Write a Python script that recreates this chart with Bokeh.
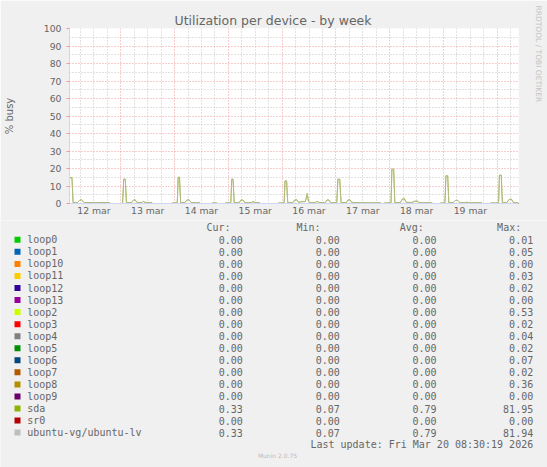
from bokeh.plotting import figure
from bokeh.models import Range1d, FixedTicker, Title
from bokeh.layouts import column
from bokeh.embed import file_html
from bokeh.resources import INLINE
from bokeh.core.properties import value

NAN = float("nan")

# ---------------- data ----------------
title_text = "Utilization per device - by week"
y_label_text = "% busy"
side_text = "RRDTOOL / TOBI OETIKER"
footer_text = "Munin 2.0.75"
update_text = "Last update: Fri Mar 20 08:30:19 2026"

# hours since 12 Mar 00:00
x_start, x_end = 1.1, 201.5
day_labels = ["12 mar", "13 mar", "14 mar", "15 mar", "16 mar", "17 mar", "18 mar", "19 mar"]
label_hours = [12, 36, 60, 84, 108, 132, 156, 180]
midnight_hours = [24, 48, 72, 96, 120, 144, 168, 192]
quarter_hours = [6, 12, 18, 30, 36, 42, 54, 60, 66, 78, 84, 90, 102, 108, 114,
                 126, 132, 138, 150, 156, 162, 174, 180, 186, 198]
y_ticks = [0, 10, 20, 30, 40, 50, 60, 70, 80, 90, 100]
y_minor = [5, 15, 25, 35, 45, 55, 65, 75, 85, 95]

devices = ["loop0", "loop1", "loop10", "loop11", "loop12", "loop13", "loop2", "loop3",
           "loop4", "loop5", "loop6", "loop7", "loop8", "loop9", "sda", "sr0",
           "ubuntu-vg/ubuntu-lv"]
colors = ["#00CC00", "#0066B3", "#FF8000", "#FFCC00", "#330099", "#990099", "#CCFF00",
          "#FF0000", "#808080", "#008F00", "#00487D", "#B35A00", "#B38F00", "#6B006B",
          "#8FB300", "#B30000", "#BEBEBE"]
headers = ["Cur:", "Min:", "Avg:", "Max:"]
cur = [0.00, 0.00, 0.00, 0.00, 0.00, 0.00, 0.00, 0.00, 0.00, 0.00, 0.00, 0.00, 0.00, 0.00, 0.33, 0.00, 0.33]
mins = [0.00, 0.00, 0.00, 0.00, 0.00, 0.00, 0.00, 0.00, 0.00, 0.00, 0.00, 0.00, 0.00, 0.00, 0.07, 0.00, 0.07]
avgs = [0.00, 0.00, 0.00, 0.00, 0.00, 0.00, 0.00, 0.00, 0.00, 0.00, 0.00, 0.00, 0.00, 0.00, 0.79, 0.00, 0.79]
maxs = [0.01, 0.05, 0.00, 0.03, 0.02, 0.00, 0.53, 0.02, 0.04, 0.02, 0.07, 0.02, 0.36, 0.00, 81.95, 0.00, 81.94]

# spans (hours) where samples exist; the idle devices sit at 0 there
data_spans = [(1.1, 19.1), (24.8, 38.0), (46.8, 59.4), (64.7, 67.0), (70.6, 86.1),
              (94.4, 140.0), (141.6, 163.0), (166.7, 185.2), (189.0, 201.5)]

sda_hours = [1.1, 2.2, 2.7, 4.6, 5.6, 6.4, 7.2, 7.8, 12.0, 16.0, 19.1, 19.2,
             24.8, 25.3, 26.0, 26.5, 28.8, 29.6, 30.4, 31.2, 33.4, 34.0, 34.8, 38.0, 38.1,
             46.8, 48.2, 49.2, 49.6, 50.2, 50.7, 52.6, 53.5, 54.4, 55.4, 57.5, 58.8, 59.4, 59.5,
             64.7, 67.0, 67.1,
             70.6, 72.4, 73.1, 73.5, 74.1, 74.6, 76.8, 77.6, 78.5, 79.3, 82.2, 83.0, 83.8, 86.1, 86.2,
             94.4, 96.2, 96.9, 97.3, 98.0, 98.5, 100.8, 101.6, 102.6, 103.4, 104.5, 106.4, 107.2,
             107.8, 108.5, 110.8, 111.6, 112.6, 115.2, 116.0, 116.9, 117.6, 120.4, 120.9, 121.7,
             122.3, 124.6, 125.4, 126.3, 127.1, 133.4, 140.0, 140.1,
             141.6, 143.1, 144.6, 145.0, 145.8, 146.3, 148.8, 149.7, 150.6, 151.4, 154.0, 155.2,
             156.4, 157.2, 163.0, 163.1,
             166.7, 167.7, 168.7, 169.1, 169.9, 170.4, 172.4, 173.3, 174.3, 175.3, 177.8, 178.4,
             179.0, 185.2, 185.3,
             189.0, 191.4, 192.6, 193.0, 193.8, 194.3, 196.3, 197.3, 198.3, 199.2, 201.5]
sda_busy = [14.7, 14.7, 0.5, 0.4, 1.8, 2.1, 1.2, 0.5, 0.5, 0.6, 0.5, NAN,
            0.3, 13.9, 13.9, 0.6, 0.5, 1.9, 2.1, 0.6, 0.5, 1.3, 0.6, 0.5, NAN,
            0.3, 0.3, 0.4, 15.0, 15.0, 0.5, 0.5, 1.9, 2.2, 0.6, 0.4, 0.6, 0.3, NAN,
            0.3, 0.3, NAN,
            0.3, 0.4, 0.5, 13.9, 13.9, 0.5, 0.5, 1.9, 2.0, 0.6, 0.5, 1.1, 0.6, 0.4, NAN,
            0.3, 0.3, 0.5, 12.9, 12.9, 0.5, 0.5, 2.0, 2.1, 0.6, 1.0, 1.1, 5.7,
            1.0, 0.5, 0.5, 1.2, 0.5, 0.5, 2.0, 2.0, 0.5, 0.5, 13.9, 13.9,
            0.5, 0.5, 2.0, 2.1, 0.6, 0.4, 0.4, NAN,
            0.3, 0.3, 0.5, 19.6, 19.6, 0.5, 0.5, 2.6, 2.7, 0.6, 0.6, 1.3,
            1.3, 0.5, 0.4, NAN,
            0.3, 0.3, 0.5, 15.8, 15.8, 0.5, 0.5, 1.7, 1.8, 0.5, 0.5, 0.8,
            0.5, 0.4, NAN,
            0.3, 0.3, 0.5, 16.2, 16.2, 0.5, 0.5, 2.3, 2.5, 0.6, 0.4]
lv_busy = [14.7, 14.7, 0.5, 0.4, 1.8, 2.1, 1.2, 0.5, 0.5, 0.6, 0.5, NAN,
           0.3, 13.9, 13.9, 0.6, 0.5, 1.9, 2.1, 0.6, 0.5, 1.3, 0.6, 0.5, NAN,
           0.3, 0.3, 0.4, 15.0, 15.0, 0.5, 0.5, 1.9, 2.2, 0.6, 0.4, 0.6, 0.3, NAN,
           0.3, 0.3, NAN,
           0.3, 0.4, 0.5, 13.9, 13.9, 0.5, 0.5, 1.9, 2.0, 0.6, 0.5, 1.1, 0.6, 0.4, NAN,
           0.3, 0.3, 0.5, 12.9, 12.9, 0.5, 0.5, 2.0, 2.1, 0.6, 1.0, 1.1, 5.7,
           1.0, 0.5, 0.5, 1.2, 0.5, 0.5, 2.0, 2.0, 0.5, 0.5, 13.9, 13.9,
           0.5, 0.5, 2.0, 2.1, 0.6, 0.4, 0.4, NAN,
           0.3, 0.3, 0.5, 19.6, 19.6, 0.5, 0.5, 2.6, 2.7, 0.6, 0.6, 1.3,
           1.3, 0.5, 0.4, NAN,
           0.3, 0.3, 0.5, 15.8, 15.8, 0.5, 0.5, 1.7, 1.8, 0.5, 0.5, 0.8,
           0.5, 0.4, NAN,
           0.3, 0.3, 0.5, 16.2, 16.2, 0.5, 0.5, 2.3, 2.5, 0.6, 0.4]

# ---------------- styles ----------------
BG = "#F0F0F0"
FONT_COLOR = "#666666"
AXIS_COLOR = "#CFD6F8"
MGRID = "#EE9A9A"
GRID = "#C4C4C4"

W = 547
H_TOP = 220
H_BOT = 247

p = figure(width=W, height=H_TOP, x_range=Range1d(x_start, x_end), y_range=Range1d(0, 100),
           toolbar_location=None, output_backend="svg",
           min_border_left=67, min_border_right=29, min_border_top=28, min_border_bottom=17)
p.frame_align = False
p.background_fill_color = "#FFFFFF"
p.border_fill_color = BG
p.outline_line_color = None

# title and side text as layout titles
p.add_layout(Title(text=title_text, align="left", offset=105, standoff=2,
                   text_font="DejaVu Sans", text_font_size="12.5px",
                   text_font_style="normal", text_color=FONT_COLOR), "above")
# empty spacer pushes the side text towards the right edge
p.add_layout(Title(text=" ", standoff=10, text_font_size="1px"), "right")
p.add_layout(Title(text=side_text, align="left", offset=-23, standoff=0,
                   vertical_align="top", text_font="DejaVu Sans", text_font_size="7.5px",
                   text_font_style="normal", text_color="#C4C4C4"), "right")

# axes
p.xaxis.ticker = FixedTicker(ticks=label_hours)
p.xaxis.major_label_overrides = {h: lab for h, lab in zip(label_hours, day_labels)}
p.xaxis.major_tick_line_color = None
p.xaxis.minor_tick_line_color = None
p.xaxis.major_label_standoff = 1
p.xaxis.major_tick_out = 0
p.yaxis.ticker = FixedTicker(ticks=y_ticks, minor_ticks=y_minor)
p.yaxis.major_tick_out = 3
p.yaxis.major_tick_in = 0
p.yaxis.major_tick_line_color = MGRID
p.yaxis.minor_tick_line_color = None
p.yaxis.major_label_standoff = 4
p.yaxis.axis_label = y_label_text
p.yaxis.axis_label_text_font = "DejaVu Sans"
p.yaxis.axis_label_text_font_size = "10px"
p.yaxis.axis_label_text_font_style = "normal"
p.yaxis.axis_label_text_color = FONT_COLOR
p.yaxis.axis_label_standoff = 26
for ax in (p.xaxis[0], p.yaxis[0]):
    ax.axis_line_color = AXIS_COLOR
    ax.major_label_text_font = "DejaVu Sans"
    ax.major_label_text_font_size = "9.3px"
    ax.major_label_text_color = FONT_COLOR

# grids
p.xgrid.ticker = FixedTicker(ticks=midnight_hours, minor_ticks=quarter_hours)
p.ygrid.ticker = FixedTicker(ticks=y_ticks, minor_ticks=y_minor)
for g in (p.xgrid[0], p.ygrid[0]):
    g.grid_line_color = MGRID
    g.grid_line_dash = "1 2"
    g.grid_line_width = 1
    g.minor_grid_line_color = GRID
    g.minor_grid_line_dash = "1 2"
    g.minor_grid_line_width = 1

# idle devices (all zero)
span_xs = [[a, b] for a, b in data_spans]
span_ys = [[0, 0] for a, b in data_spans]
for name, col in zip(devices, colors):
    if name in ("sda", "ubuntu-vg/ubuntu-lv"):
        continue
    p.multi_line(xs=span_xs, ys=span_ys, line_color=col, line_width=1.2)

p.line(sda_hours, sda_busy, line_color="#8FB300", line_width=1.0)
p.line(sda_hours, lv_busy, line_color="#BEBEBE", line_width=1.0, line_alpha=0.7)

# ---------------- legend figure (pixel coordinates) ----------------
q = figure(width=W, height=H_BOT, x_range=Range1d(0, W), y_range=Range1d(H_BOT, 0),
           toolbar_location=None, output_backend="svg", min_border=0,
           x_axis_location=None, y_axis_location=None)
q.frame_align = False
q.background_fill_color = BG
q.border_fill_color = BG
q.outline_line_color = None
q.xgrid.visible = False
q.ygrid.visible = False

row_y = [19.3 + 12.05 * i for i in range(len(devices))]
mono = value("DejaVu Sans Mono")
fs = "10px"

q.rect(x=[17] * len(devices), y=row_y, width=6, height=6, fill_color=colors, line_color=None)
q.text(x=[26.7] * len(devices), y=row_y, text=devices, text_font=mono, text_font_size=fs,
       text_color=FONT_COLOR, text_baseline="middle", text_align="left")
cols_right = [242.3, 339.3, 436.0, 532.7]
for xr, vals in zip(cols_right, (cur, mins, avgs, maxs)):
    q.text(x=[xr] * len(vals), y=row_y, text=["%.2f" % v for v in vals], text_font=mono,
           text_font_size=fs, text_color=FONT_COLOR, text_baseline="middle", text_align="right")
header_right = [230.0, 320.0, 423.3, 520.7]
q.text(x=header_right, y=[7.3] * 4, text=headers, text_font=mono, text_font_size=fs,
       text_color=FONT_COLOR, text_baseline="middle", text_align="right")
q.text(x=[532.7], y=[223.7], text=[update_text], text_font=mono, text_font_size=fs,
       text_color=FONT_COLOR, text_baseline="middle", text_align="right")
q.text(x=[277.0], y=[235.0], text=[footer_text], text_font=value("DejaVu Sans"),
       text_font_size="6px", text_color="#BBBBBB", text_baseline="middle", text_align="center")

layout = column(p, q, spacing=0)
open("out.html", "w").write(file_html(layout, INLINE))
